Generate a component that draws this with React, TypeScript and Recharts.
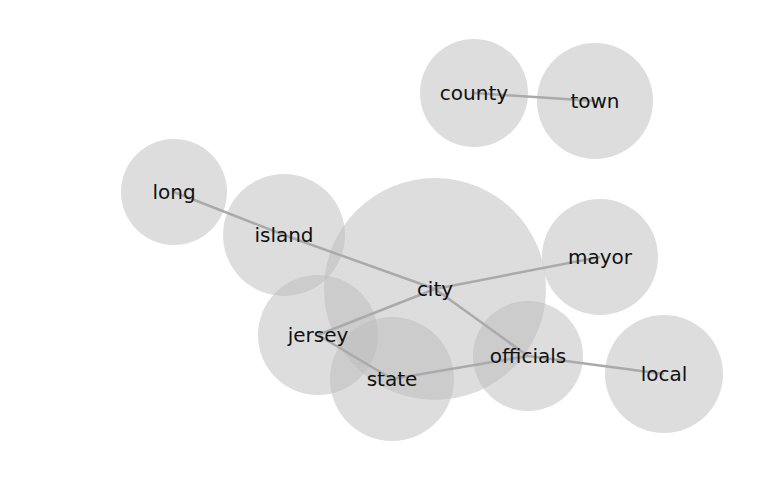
import React from 'react';
import { ScatterChart, Scatter, XAxis, YAxis } from 'recharts';

const words = ['county', 'town', 'long', 'island', 'city', 'mayor', 'jersey', 'state', 'officials', 'local'];
const xs = [474, 595, 174, 284, 435, 600, 318, 392, 528, 664];
const ys = [93, 101, 192, 235, 289, 257, 335, 379, 356, 374];
const sizes = [54, 58, 53, 61, 111, 58, 60, 62, 55, 59];
const links: [string, string][] = [
    ['county', 'town'], ['long', 'island'], ['island', 'city'], ['city', 'mayor'],
    ['city', 'jersey'], ['city', 'officials'], ['jersey', 'state'], ['state', 'officials'],
    ['officials', 'local'],
];

const nodes = words.map((w, i) => ({ name: w, x: xs[i], y: ys[i], r: sizes[i] }));
const byName = (n: string) => nodes[words.indexOf(n)];

const Bubble = (p: any) => (
    <circle cx={p.cx} cy={p.cy} r={p.payload.r} fill="#bbbbbb" fillOpacity={0.5} />
);
const Label = (p: any) => (
    <text x={p.cx} y={p.cy} textAnchor="middle" dominantBaseline="central"
        fontSize={20} fontFamily="DejaVu Sans" fill="#111">{p.payload.name}</text>
);

export default function App() {
    return (
        <div style={{ position: 'absolute', left: 0, top: 0, background: 'white' }}>
            <ScatterChart width={769} height={500} margin={{ top: 0, right: 0, bottom: 0, left: 0 }}>
                <XAxis type="number" dataKey="x" domain={[0, 769]} hide />
                <YAxis type="number" dataKey="y" domain={[0, 500]} reversed hide />
                <Scatter data={nodes} shape={Bubble} isAnimationActive={false} />
                {links.map(([a, b]) => (
                    <Scatter key={a + b} data={[byName(a), byName(b)]} line={{ stroke: '#aaaaaa', strokeWidth: 2.5 }}
                        shape={() => null} isAnimationActive={false} />
                ))}
                <Scatter data={nodes} shape={Label} isAnimationActive={false} />
            </ScatterChart>
        </div>
    );
}
